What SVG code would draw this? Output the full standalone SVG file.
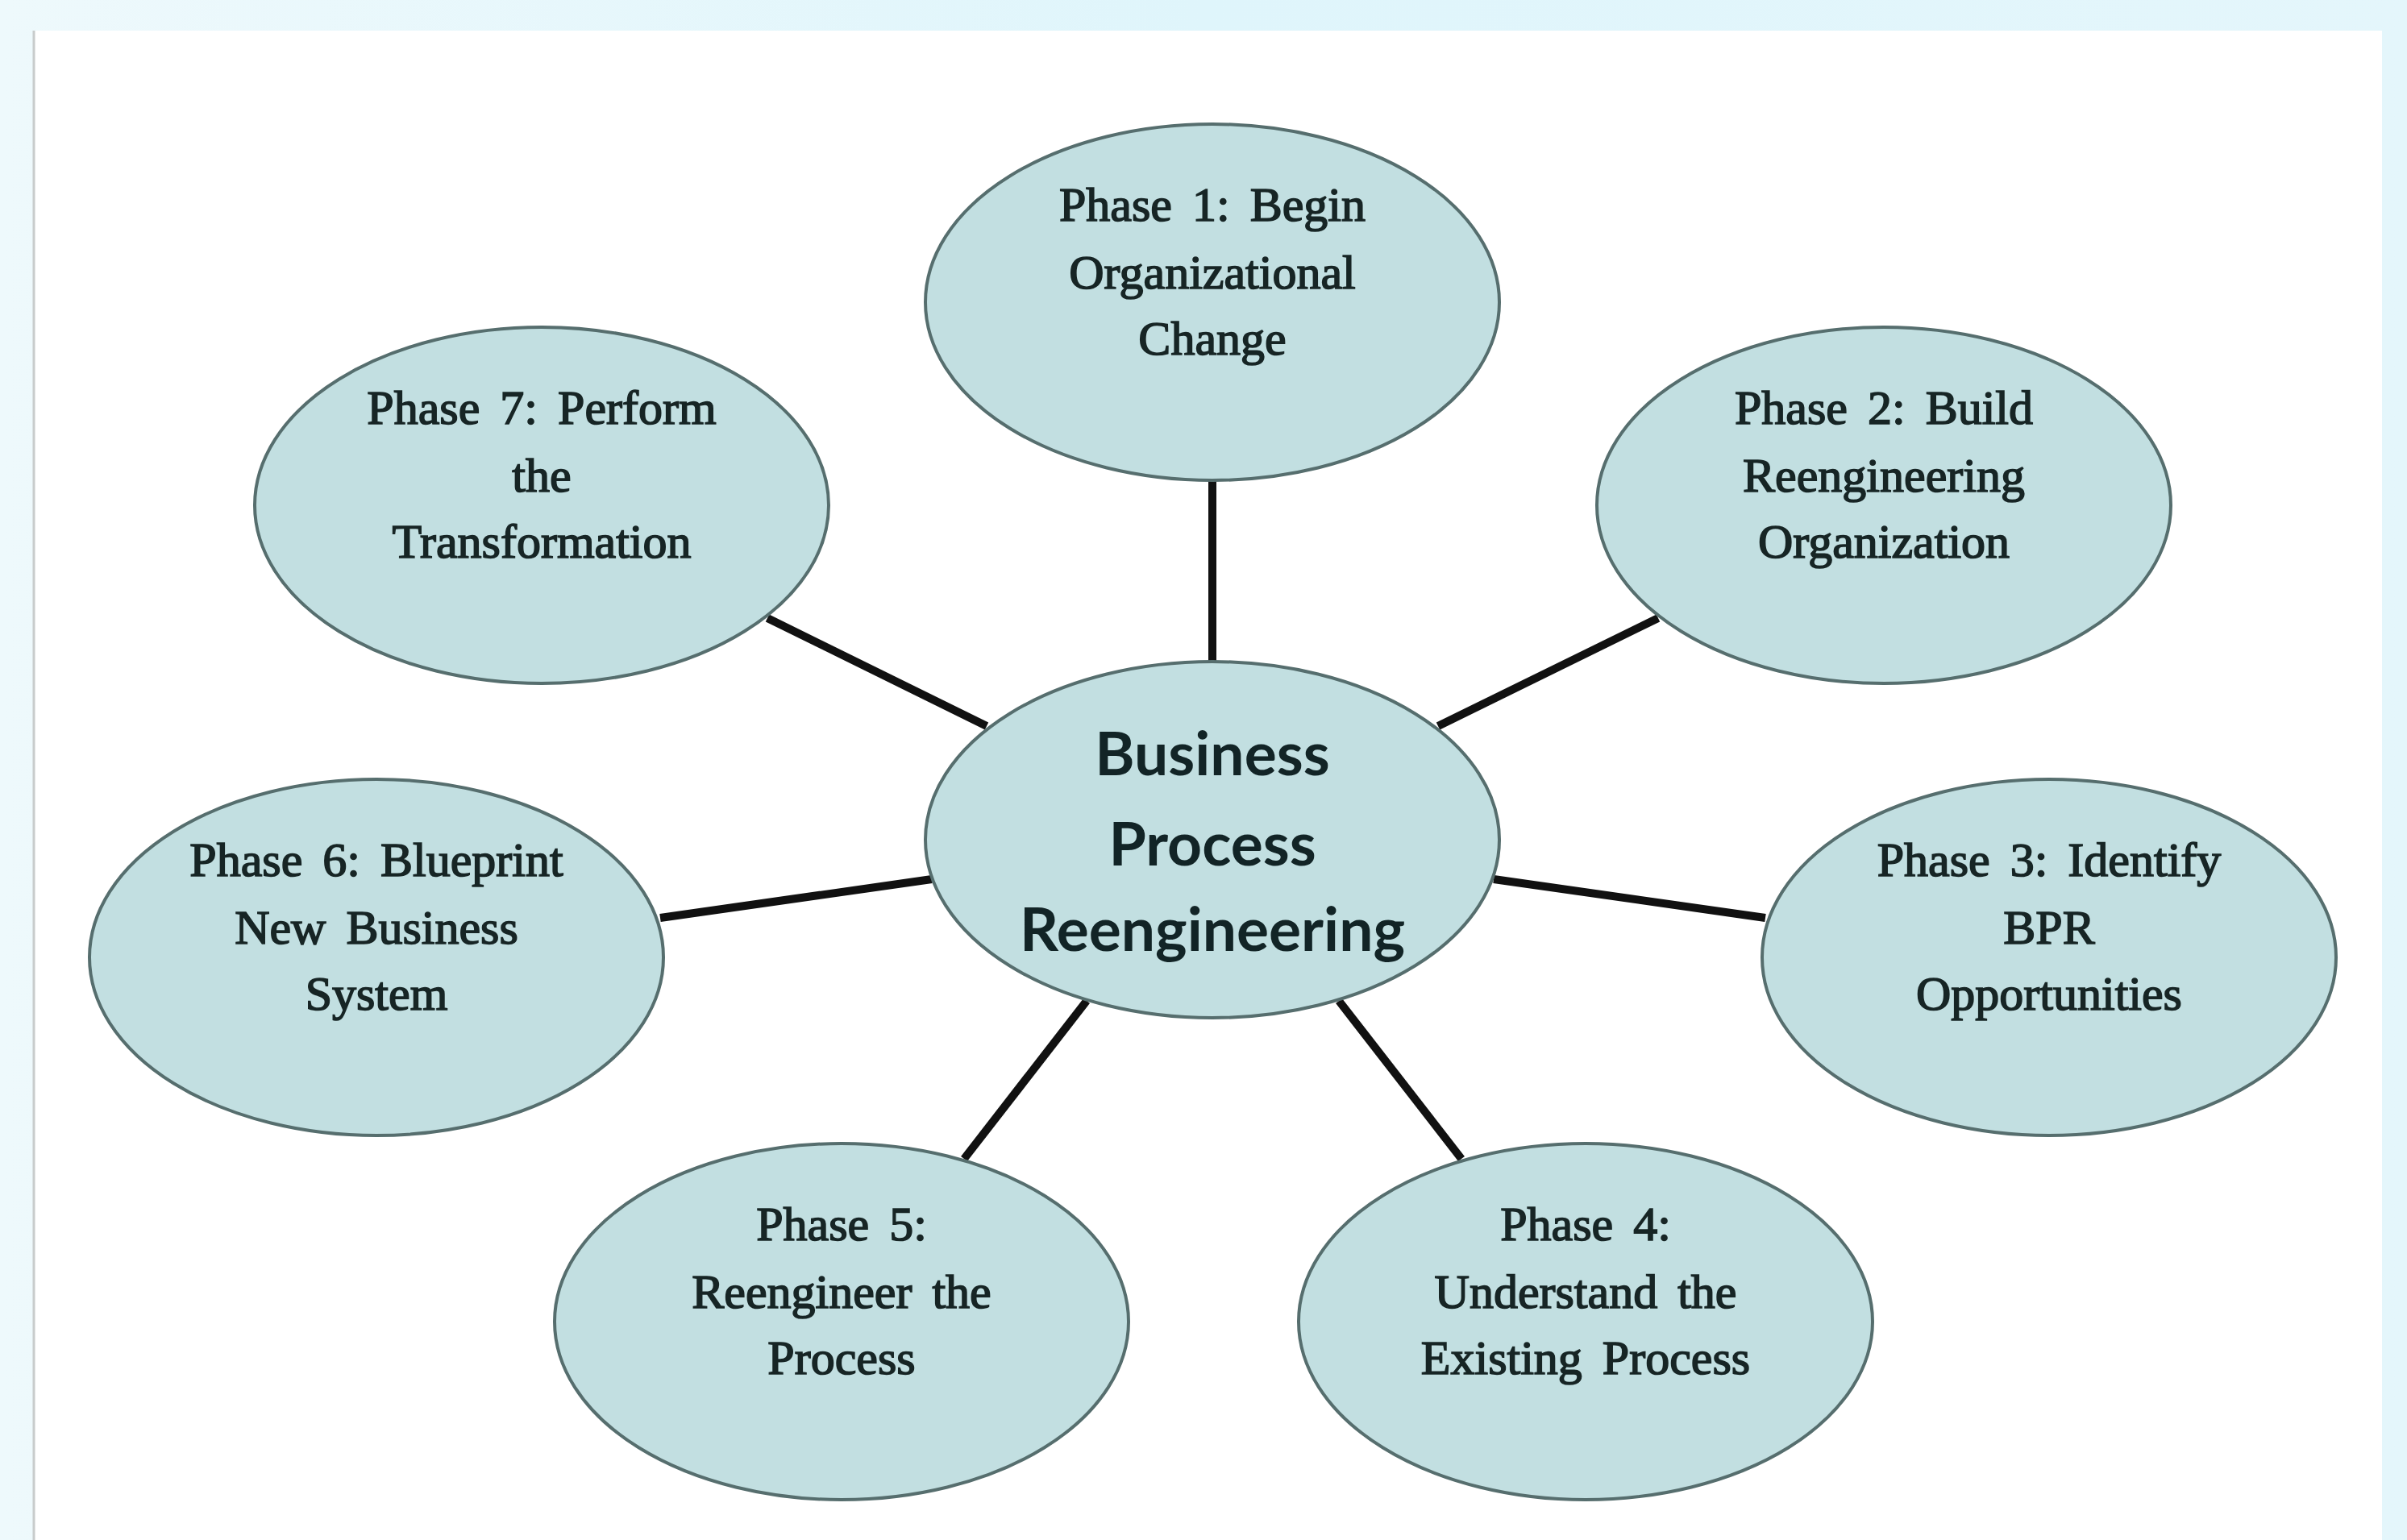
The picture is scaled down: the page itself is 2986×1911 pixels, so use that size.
<svg xmlns="http://www.w3.org/2000/svg" width="2986" height="1911" viewBox="0 0 2986 1911">
<defs>
<linearGradient id="band" x1="0" y1="0" x2="1" y2="0">
<stop offset="0" stop-color="#eef9fc"/>
<stop offset="0.5" stop-color="#dff5fb"/>
<stop offset="1" stop-color="#e4f6fb"/>
</linearGradient>
</defs>
<style>
.node ellipse{fill:#c2dfe1;stroke:#566e6e;stroke-width:4}
.ph{font-family:"Liberation Serif","Times New Roman",serif;font-size:60px;fill:#172525;stroke:#172525;stroke-width:1.6;text-anchor:middle;word-spacing:10px}
.ctr{font-family:Lato,"Liberation Sans",sans-serif;font-weight:bold;font-size:75px;fill:#122426;text-anchor:middle}
.conn line{stroke:#111;stroke-width:10}
</style>
<rect x="0" y="0" width="2986" height="1911" fill="url(#band)"/>
<rect x="42" y="38" width="2913" height="1873" fill="#ffffff"/>
<line x1="42" y1="38" x2="42" y2="1911" stroke="#c8cccc" stroke-width="3"/>
<g id="connectors" class="conn">
<line x1="1504" y1="596" x2="1504" y2="821"/>
<line x1="2057" y1="767" x2="1784" y2="901"/>
<line x1="2190" y1="1139" x2="1853" y2="1091"/>
<line x1="1813" y1="1438" x2="1661" y2="1242"/>
<line x1="1196" y1="1438" x2="1348" y2="1242"/>
<line x1="819" y1="1139" x2="1156" y2="1091"/>
<line x1="952" y1="767" x2="1224" y2="901"/>
</g>
<g id="center" class="node">
<ellipse cx="1504" cy="1042" rx="356" ry="221"/>
<text class="ctr" x="1504" y="962">Business</text>
<text class="ctr" x="1504" y="1074">Process</text>
<text class="ctr" x="1504" y="1180">Reengineering</text>
</g>
<g id="phase1" class="node">
<ellipse cx="1504" cy="375" rx="356" ry="221"/>
<text class="ph" x="1504" y="274">Phase 1: Begin</text>
<text class="ph" x="1504" y="358">Organizational</text>
<text class="ph" x="1504" y="440">Change</text>
</g>
<g id="phase2" class="node">
<ellipse cx="2337" cy="627" rx="356" ry="221"/>
<text class="ph" x="2337" y="526">Phase 2: Build</text>
<text class="ph" x="2337" y="610">Reengineering</text>
<text class="ph" x="2337" y="692">Organization</text>
</g>
<g id="phase3" class="node">
<ellipse cx="2542" cy="1188" rx="356" ry="221"/>
<text class="ph" x="2542" y="1087">Phase 3: Identify</text>
<text class="ph" x="2542" y="1171">BPR</text>
<text class="ph" x="2542" y="1253">Opportunities</text>
</g>
<g id="phase4" class="node">
<ellipse cx="1967" cy="1640" rx="356" ry="221"/>
<text class="ph" x="1967" y="1539">Phase 4:</text>
<text class="ph" x="1967" y="1623">Understand the</text>
<text class="ph" x="1967" y="1705">Existing Process</text>
</g>
<g id="phase5" class="node">
<ellipse cx="1044" cy="1640" rx="356" ry="221"/>
<text class="ph" x="1044" y="1539">Phase 5:</text>
<text class="ph" x="1044" y="1623">Reengineer the</text>
<text class="ph" x="1044" y="1705">Process</text>
</g>
<g id="phase6" class="node">
<ellipse cx="467" cy="1188" rx="356" ry="221"/>
<text class="ph" x="467" y="1087">Phase 6: Blueprint</text>
<text class="ph" x="467" y="1171">New Business</text>
<text class="ph" x="467" y="1253">System</text>
</g>
<g id="phase7" class="node">
<ellipse cx="672" cy="627" rx="356" ry="221"/>
<text class="ph" x="672" y="526">Phase 7: Perform</text>
<text class="ph" x="672" y="610">the</text>
<text class="ph" x="672" y="692">Transformation</text>
</g>
</svg>
